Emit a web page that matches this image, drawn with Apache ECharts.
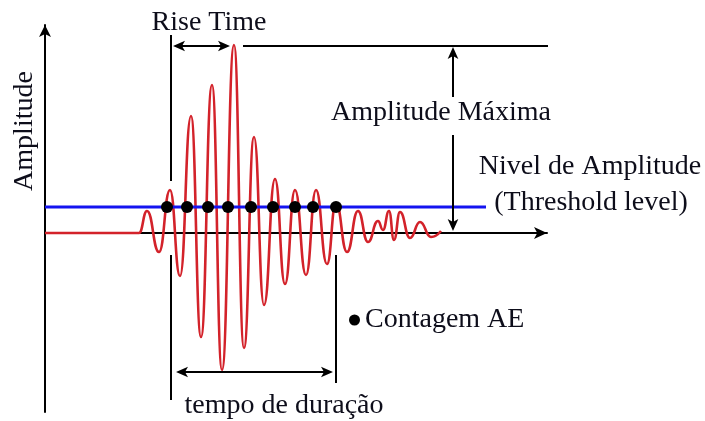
<!DOCTYPE html>
<html>
<head>
<meta charset="utf-8">
<script src="https://cdn.jsdelivr.net/npm/echarts@6/dist/echarts.min.js"></script>
<style>
  html, body { margin: 0; padding: 0; background: #fff; }
  #chart { width: 705px; height: 421px; }
</style>
</head>
<body>
<div id="chart"></div>
<script>
// Acoustic-emission burst, given by its successive extrema (time, amplitude).
// Baseline amplitude is 0; time starts at the amplitude axis.
const waveTime = [0, 94, 102, 114, 125, 135, 146, 156, 167, 177, 189, 199, 209, 219, 230, 240, 250, 261, 271, 282, 291, 302, 313, 323, 333, 338, 344, 349, 355, 365, 375, 386, 396];
const waveAmp  = [0, 0, 22, -19, 43, -43, 117, -104, 148, -137, 188, -115, 96, -72, 54, -51, 43, -42, 43, -31, 30, -19, 22, -9, 12, 3, 22, -7, 21, -5, 11, -4, 2];

// Threshold level and its extent along the time axis
const thresholdLevel = 26;
const thresholdEnd = 441;

// Times at which the signal crosses the threshold upwards (AE counts)
const countTimes = [122, 142, 163, 183, 206, 228, 250, 268, 291];

// Key instants / levels used by the annotations
const riseStart = 126;    // first threshold crossing
const peakTime = 189;     // time of maximum amplitude
const peakAmp = 188;      // maximum amplitude
const durationEnd = 291;  // last threshold crossing

const FONT_FAMILY = '"Liberation Serif", "Times New Roman", serif';
const FONT = '28px ' + FONT_FAMILY;
const INK = '#0d0d1a';
const ARROW = [8, 12];   // arrow head: width factor, length
const BACK = 6;          // how far a shaft stops inside its arrow head

// Annotation segments (time, amplitude); arrows = [at start, at end]
const LEVEL = peakAmp - 1;
const annotationSegments = [
  { from: [riseStart, 52], to: [riseStart, 198] },
  { from: [riseStart + 2, LEVEL], to: [peakTime - 4, LEVEL], arrows: [true, true] },
  { from: [peakTime + 9, LEVEL], to: [503, LEVEL] },
  { from: [408, 136], to: [408, LEVEL - 1], arrows: [false, true] },
  { from: [408, 98], to: [408, 2], arrows: [false, true] },
  { from: [riseStart, -22], to: [riseStart, -167] },
  { from: [durationEnd, -22], to: [durationEnd, -150] },
  { from: [riseStart + 5, -139], to: [durationEnd - 3, -139], arrows: [true, true] }
];

// Turn segments into plain line series plus rotated arrow heads.
// The 'arrow' symbol has its tip on the data point and points up before rotation.
const segmentSeries = [];
const arrowHeads = [];
annotationSegments.forEach(function (s, i) {
  const a = s.arrows || [false, false];
  const dx = s.to[0] - s.from[0], dy = s.to[1] - s.from[1];
  const len = Math.sqrt(dx * dx + dy * dy);
  const ux = dx / len, uy = dy / len;
  const p0 = a[0] ? [s.from[0] + ux * BACK, s.from[1] + uy * BACK] : s.from;
  const p1 = a[1] ? [s.to[0] - ux * BACK, s.to[1] - uy * BACK] : s.to;
  segmentSeries.push({
    name: 'annotation-' + i, type: 'line', silent: true, clip: false,
    data: [p0, p1], symbol: 'none', showSymbol: false,
    lineStyle: { color: '#000', width: 2 }, z: 5
  });
  // rotation is counter-clockwise in degrees
  const angEnd = Math.atan2(uy, ux) * 180 / Math.PI - 90;
  if (a[1]) arrowHeads.push({ value: s.to, symbolRotate: angEnd });
  if (a[0]) arrowHeads.push({ value: s.from, symbolRotate: angEnd + 180 });
});

function caption(text, x, y, extra) {
  return Object.assign({
    type: 'text', x: x, y: y, silent: true,
    style: { text: text, font: FONT, fill: INK, align: 'center', verticalAlign: 'middle',
             textAlign: 'center', textVerticalAlign: 'middle' }
  }, extra || {});
}

const chart = echarts.init(document.getElementById('chart'), null, { renderer: 'canvas' });
chart.setOption({
  animation: false,
  backgroundColor: '#fff',
  grid: { left: 45, top: 25, right: 158, bottom: 9 },
  xAxis: {
    type: 'value', min: 0, max: 502,
    axisLine: { show: true, onZero: true, symbol: ['none', 'arrow'], symbolSize: [9, 13],
                lineStyle: { color: '#000', width: 2 } },
    axisTick: { show: false }, axisLabel: { show: false }, splitLine: { show: false }
  },
  yAxis: {
    type: 'value', min: -179, max: 208,
    axisLine: { show: true, onZero: false, symbol: ['none', 'arrow'], symbolSize: [9, 12],
                lineStyle: { color: '#000', width: 2 } },
    axisTick: { show: false }, axisLabel: { show: false }, splitLine: { show: false }
  },
  legend: {
    data: ['Contagem AE'], selectedMode: false, padding: 0,
    left: 349, top: 306, icon: 'circle', itemWidth: 11, itemHeight: 11,
    textStyle: { fontSize: 28, fontFamily: FONT_FAMILY, color: INK }
  },
  series: [
    {
      name: 'Sinal', type: 'line', silent: true, clip: false,
      data: waveTime.map((t, i) => [t, waveAmp[i]]),
      smooth: 0.5, smoothMonotone: 'x', symbol: 'none', showSymbol: false,
      lineStyle: { color: '#d3222a', width: 2.6 }, z: 2
    },
    {
      name: 'Threshold', type: 'line', silent: true, clip: false,
      data: [[0, thresholdLevel], [thresholdEnd, thresholdLevel]],
      symbol: 'none', showSymbol: false,
      lineStyle: { color: '#1414f0', width: 3 }, z: 3
    },
    {
      name: 'Contagem AE', type: 'scatter', silent: true, clip: false,
      data: countTimes.map(t => [t, thresholdLevel]),
      symbol: 'circle', symbolSize: 12, itemStyle: { color: '#000', opacity: 1 }, z: 4
    }
  ].concat(segmentSeries, [{
    name: 'arrow-heads', type: 'scatter', silent: true, clip: false,
    data: arrowHeads, symbol: 'arrow', symbolSize: ARROW,
    itemStyle: { color: '#000', opacity: 1 }, z: 6
  }]),
  graphic: [
    caption('Rise Time', 209, 23),
    caption('Amplitude Máxima', 441, 113),
    caption('Nivel de Amplitude', 590, 167),
    caption('(Threshold level)', 591, 203),
    caption('tempo de duração', 284, 406),
    caption('Amplitude', 25, 131, { rotation: Math.PI / 2 })
  ]
});
</script>
</body>
</html>
